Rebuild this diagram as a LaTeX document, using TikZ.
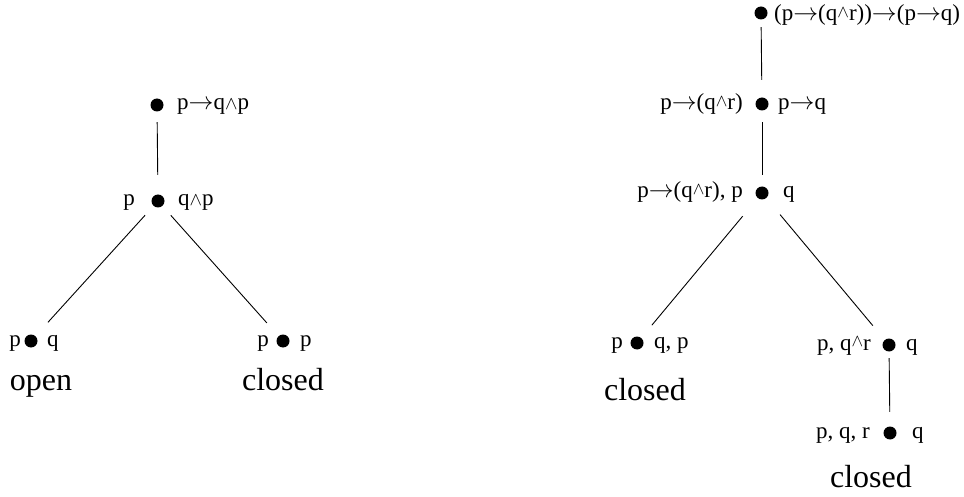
\documentclass[tikz,border=0pt]{standalone}
\usepackage{fontspec}
\usepackage{graphicx}
\setmainfont{Liberation Serif}
\newcommand{\lwg}{\raisebox{0pt}{\scalebox{0.75}{$\wedge$}}}
\newcommand{\hwg}{\raisebox{0.35ex}{\scalebox{0.7}{$\wedge$}}}
\newcommand{\ar}{\ensuremath{\rightarrow}}
\begin{document}
\begin{tikzpicture}[x=1pt,y=-1pt,
  dot/.style={circle,fill=black,inner sep=0pt,minimum size=13pt},
  lab/.style={inner sep=0pt,font=\fontsize{23}{26}\selectfont},
  big/.style={inner sep=0pt,font=\fontsize{32}{36}\selectfont},
  edge/.style={line width=0.9pt}]
\useasboundingbox (0,0) rectangle (964,497);
% left tree
\node[dot] (a1) at (157,105) {};
\node[dot] (a2) at (158,201) {};
\node[dot] (a3) at (31,341) {};
\node[dot] (a4) at (283,341) {};
\node[lab,anchor=base west] (a1r) at (177,110) {p\ar q\lwg p};
\node[lab,anchor=base east] (a2l) at (135,206) {p};
\node[lab,anchor=base west] (a2r) at (178,206) {q\lwg p};
\node[lab,anchor=base east] (a3l) at (21,346) {p};
\node[lab,anchor=base west] (a3r) at (47,346) {q};
\node[lab,anchor=base east] (a4l) at (269,346) {p};
\node[lab,anchor=base west] (a4r) at (300,346) {p};
\node[big,anchor=base] (open) at (41,390) {open};
\node[big,anchor=base] (cl1) at (283,390) {closed};
\draw[edge,shorten <=10.5pt,shorten >=19.5pt] (a1) -- (a2);
\draw[edge,shorten <=12.5pt,shorten >=18.5pt] (a2) -- (a3);
\draw[edge,shorten <=12.5pt,shorten >=17.5pt] (a2) -- (a4);
% right tree
\node[dot] (b1) at (761,13) {};
\node[dot] (b2) at (762,104) {};
\node[dot] (b3) at (762,193) {};
\node[dot] (b4) at (637,343) {};
\node[dot] (b5) at (889,345) {};
\node[dot] (b6) at (890,433) {};
\node[lab,anchor=base west] (b1r) at (774,21) {(p\ar(q\hwg r))\ar(p\ar q)};
\node[lab,anchor=base east] (b2l) at (743,110) {p\ar(q\hwg r)};
\node[lab,anchor=base west] (b2r) at (778,110) {p\ar q};
\node[lab,anchor=base east] (b3l) at (743,198) {p\ar(q\hwg r), p};
\node[lab,anchor=base west] (b3r) at (783,198) {q};
\node[lab,anchor=base east] (b4l) at (623,348) {p};
\node[lab,anchor=base west] (b4r) at (654,348) {q, p};
\node[lab,anchor=base east] (b5l) at (871,350) {p, q\hwg r};
\node[lab,anchor=base west] (b5r) at (906,350) {q};
\node[lab,anchor=base east] (b6l) at (870,438) {p, q, r};
\node[lab,anchor=base west] (b6r) at (912,438) {q};
\node[big,anchor=base] (cl2) at (645,400) {closed};
\node[big,anchor=base] (cl3) at (871,487) {closed};
\draw[edge,shorten <=7.5pt,shorten >=17.5pt] (b1) -- (b2);
\draw[edge,shorten <=11.5pt,shorten >=11.5pt] (b2) -- (b3);
\draw[edge,shorten <=23.5pt,shorten >=16.5pt] (b3) -- (b4);
\draw[edge,shorten <=21.5pt,shorten >=18.5pt] (b3) -- (b5);
\draw[edge,shorten <=6.5pt,shorten >=14.5pt] (b5) -- (b6);
\end{tikzpicture}
\end{document}
